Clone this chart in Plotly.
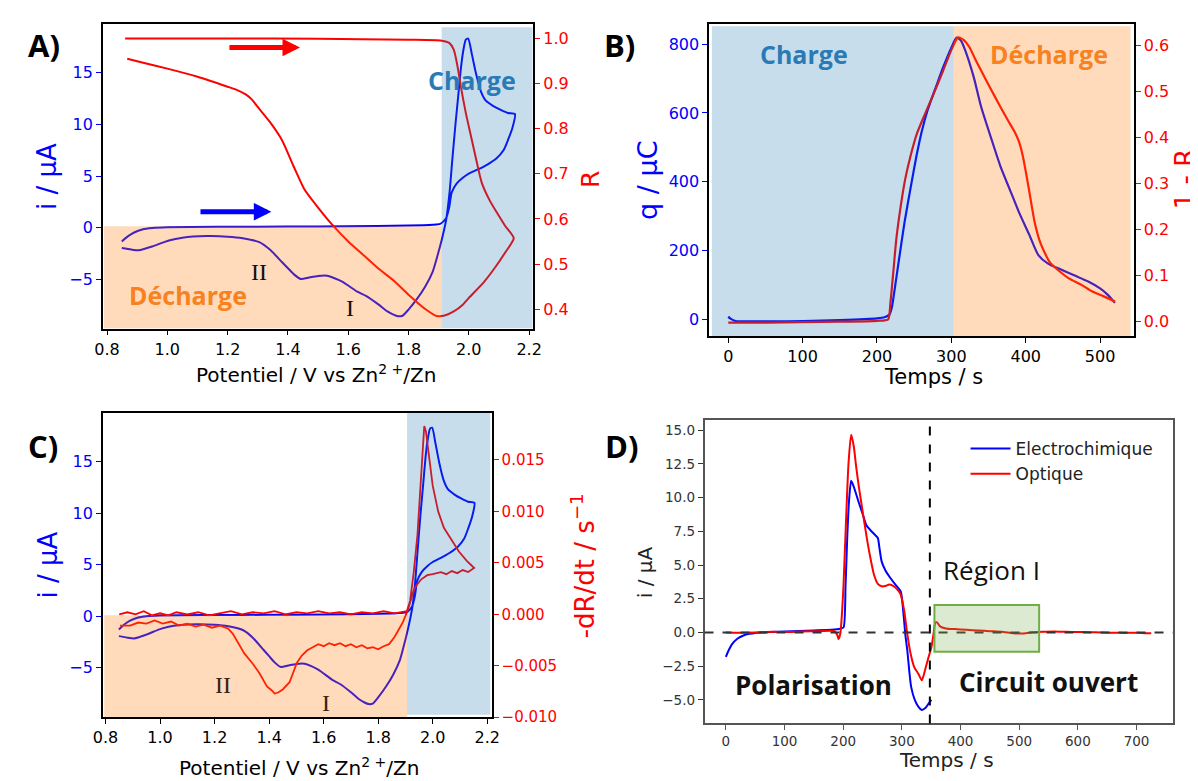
import plotly.graph_objects as go

# ---------------- data ----------------
# Panels A and C: cyclic voltammogram (potential in V vs Zn2+/Zn, current in uA)
cv_potential = [0.849, 0.87, 0.89, 0.917, 0.95, 1.0, 1.2, 1.4, 1.6, 1.8, 1.88, 1.905, 1.915, 1.924, 1.935,
                1.943, 1.96, 1.98, 2.0, 2.03, 2.06, 2.093, 2.115, 2.13, 2.145, 2.153,
                2.13, 2.106, 2.08, 2.055, 2.04, 2.024, 2.01, 1.998, 1.99, 1.982, 1.974, 1.965, 1.955,
                1.945, 1.936, 1.925, 1.911, 1.895, 1.88, 1.855, 1.83, 1.8, 1.78, 1.765, 1.75, 1.73,
                1.7, 1.66, 1.63, 1.58, 1.53, 1.5, 1.47, 1.443, 1.42, 1.4, 1.38, 1.34, 1.305, 1.25,
                1.2, 1.13, 1.05, 1.005, 0.95, 0.905, 0.88, 0.849]
cv_current = [-1.31, -0.8, -0.45, -0.16, -0.02, 0.06, 0.1, 0.12, 0.16, 0.22, 0.3, 0.38, 0.6, 0.9, 2.0,
              3.4, 4.3, 4.85, 5.25, 5.65, 6.1, 6.76, 7.5, 8.5, 9.7, 11.0,
              11.1, 11.4, 11.8, 12.35, 13.2, 14.9, 16.8, 18.3, 18.2, 17.2, 15.5, 12.8, 9.8,
              6.5, 3.4, 0.8, -1.05, -2.8, -4.25, -5.7, -6.8, -7.9, -8.5, -8.55, -8.4, -8.08,
              -7.4, -6.6, -6.17, -5.2, -4.63, -4.65, -4.8, -4.95, -4.5, -3.9, -3.3, -2.1, -1.38, -1.0,
              -0.85, -0.8, -0.95, -1.22, -1.8, -2.17, -2.1, -1.95]

# Panel A: reflectance R
r_potential = [0.86, 1.2, 1.5, 1.8, 1.91, 1.935, 1.95, 1.962, 1.974, 1.99, 2.005, 2.025, 2.043, 2.07,
               2.093, 2.12, 2.149,
               2.12, 2.09, 2.05, 2.0, 1.98, 1.95, 1.92, 1.893, 1.86, 1.8, 1.755, 1.7, 1.65, 1.6,
               1.543, 1.5, 1.455, 1.42, 1.38, 1.34, 1.3, 1.28, 1.26, 1.23, 1.2, 1.1, 1.0, 0.92, 0.867]
r_values = [1.0, 1.0, 0.999, 0.997, 0.995, 0.99, 0.975, 0.94, 0.892, 0.835, 0.79, 0.73, 0.68, 0.64,
            0.614, 0.585, 0.557,
            0.525, 0.495, 0.46, 0.425, 0.41, 0.395, 0.386, 0.385, 0.398, 0.432, 0.461, 0.49, 0.52, 0.55,
            0.59, 0.625, 0.665, 0.715, 0.775, 0.815, 0.848, 0.865, 0.876, 0.886, 0.893, 0.915, 0.933,
            0.946, 0.955]

# Panel C: -dR/dt (s^-1), noisy optical derivative
drdt_potential = [0.85, 0.88, 0.91, 0.94, 0.97, 1.0, 1.03, 1.06, 1.1, 1.14, 1.18, 1.22, 1.26, 1.3, 1.34,
                  1.38, 1.42, 1.46, 1.5, 1.54, 1.58, 1.62, 1.66, 1.7, 1.74, 1.78, 1.82, 1.86, 1.88, 1.905,
                  1.917, 1.93, 1.944, 1.958, 1.965, 1.969, 1.975, 1.985, 2.0, 2.02, 2.041, 2.07, 2.096,
                  2.125, 2.152,
                  2.13, 2.11, 2.09, 2.07, 2.05, 2.03, 2.0, 1.98, 1.958, 1.94, 1.93, 1.92, 1.91, 1.89,
                  1.86, 1.84, 1.82, 1.8, 1.78, 1.76, 1.74, 1.72, 1.7, 1.68, 1.66, 1.64, 1.62, 1.6, 1.58,
                  1.56, 1.54, 1.52, 1.502, 1.475, 1.45, 1.433, 1.42, 1.41, 1.392, 1.364, 1.34, 1.309,
                  1.285, 1.267, 1.25, 1.22, 1.19, 1.16, 1.13, 1.1, 1.07, 1.04, 1.01, 0.98, 0.95, 0.92,
                  0.89, 0.853]
drdt_values = [0.0000, 0.0002, 0.0000, 0.0003, -0.0001, 0.0001, -0.0001, 0.0002, 0.0000, 0.0002, -0.0001,
               0.0001, 0.0003, 0.0000, 0.0002, 0.0001, 0.0003, 0.0000, 0.0002, 0.0001, 0.0003, 0.0001,
               0.0002, 0.0000, 0.0002, 0.0001, 0.0003, 0.0001, 0.0002, 0.0003,
               0.0013, 0.004, 0.0077, 0.0141, 0.0175, 0.0183, 0.0178, 0.0155, 0.0125, 0.0100, 0.0084,
               0.0072, 0.0061, 0.0052, 0.0045,
               0.0041, 0.0043, 0.0040, 0.0042, 0.0039, 0.0041, 0.0039, 0.0038, 0.0034, 0.0028, 0.0023,
               0.0014, 0.0005, -0.0008, -0.0022, -0.0029, -0.0031, -0.0034, -0.0032, -0.0033, -0.0030,
               -0.0032, -0.0029, -0.0031, -0.0028, -0.0030, -0.0028, -0.0031, -0.0029, -0.0032, -0.0035,
               -0.0040, -0.0047, -0.0066, -0.0073, -0.0076, -0.0077, -0.0074, -0.0070, -0.0057, -0.0048,
               -0.0038, -0.0027, -0.0019, -0.0014, -0.0011, -0.0013, -0.0010, -0.0012, -0.0009, -0.0011,
               -0.0007, -0.0009, -0.0006, -0.0009, -0.0008, -0.0011, -0.0011]

# Panel B: charge q (uC) and 1 - R versus time (s)
q_time = [0, 3, 10, 30, 60, 100, 150, 200, 210, 216.7, 220, 224, 230, 237, 245, 253, 260, 268, 280,
          289, 300, 307, 313, 319, 330, 340, 353, 366, 380, 391, 405, 417, 430, 443, 465, 484, 500, 510, 520]
q_values = [8, 2, -5, -6, -6, -5, -2, 3, 6, 14, 35, 91, 180, 282, 380, 474, 545, 608, 680,
            733, 790, 819, 810, 780, 705, 618, 530, 445, 370, 311, 245, 187, 162, 149, 128, 110, 90, 72, 48]
omr_time = [0, 50, 100, 150, 200, 215, 218, 222, 226, 232, 238, 245, 253, 263, 275, 289, 300, 309, 316,
            324.5, 332, 340, 353, 366, 376, 386, 391, 396, 404, 412, 420, 432, 445, 458, 475, 489, 505, 520]
omr_values = [-0.002, -0.002, -0.001, 0.0, 0.002, 0.005, 0.04, 0.109, 0.18, 0.252, 0.31, 0.359, 0.405,
              0.445, 0.49, 0.545, 0.59, 0.617, 0.612, 0.595, 0.57, 0.545, 0.505, 0.466, 0.437, 0.409,
              0.39, 0.36, 0.29, 0.216, 0.17, 0.13, 0.11, 0.094, 0.08, 0.066, 0.055, 0.044]

# Panel D: current (uA) versus time (s)
elec_time = [0, 5, 10, 20, 30, 40, 50, 75, 100, 150, 180, 195, 200.5, 204, 207, 210, 213.5, 218, 226.4,
             233, 239.5, 248, 255, 259, 262, 265.6, 272, 278.6, 288, 298, 302.8, 306, 309.3, 312.5,
             315.8, 322, 328, 334, 340, 345, 350.3]
elec_current = [-1.8, -1.3, -0.9, -0.45, -0.22, -0.1, -0.03, 0.03, 0.08, 0.15, 0.2, 0.28, 0.37, 3.5, 7.2,
                9.8, 11.24, 10.8, 9.65, 8.8, 7.94, 7.5, 7.2, 7.0, 6.2, 5.25, 4.6, 4.15, 3.6, 3.05, 1.35,
                -0.2, -1.34, -2.8, -4.03, -5.0, -5.5, -5.74, -5.6, -5.3, -5.0]
opt_time = [0, 20, 50, 80, 100, 130, 160, 185, 190, 192, 195, 198, 200.5, 205, 209, 213.5, 218, 222,
            226.4, 233, 239.5, 246, 252.5, 259, 265.6, 272, 278.6, 285, 292, 298, 304, 309.3, 315, 321,
            328, 334, 340, 345, 350.3, 354, 357, 360, 365, 375, 390, 410, 430, 450, 470, 490, 505, 520,
            540, 560, 580, 600, 620, 640, 660, 680, 700, 715, 725]
opt_current = [0.0, -0.02, 0.0, 0.05, 0.03, 0.08, 0.1, 0.1, -0.2, -0.48, -0.1, 1.5, 3.5, 8.5, 12.5,
               14.65, 13.8, 12.3, 10.87, 9.0, 7.2, 5.6, 4.28, 3.6, 3.42, 3.45, 3.55, 3.45, 3.2, 2.81,
               1.6, -0.12, -1.6, -2.56, -3.05, -3.54, -2.7, -1.9, -1.1, -0.1, 0.73, 0.75, 0.45, 0.3,
               0.25, 0.2, 0.15, 0.1, 0.05, -0.05, -0.08, 0.0, 0.05, 0.08, 0.05, 0.04, 0.02, 0.0, -0.02,
               -0.03, -0.02, -0.05, -0.05]

# region limits
a_split, c_split, b_split = 1.91, 1.906, 303
d_switch_time = 347.7
d_region1 = (355.5, 534, -1.42, 2.03)

# ---------------- styling ----------------
W, H = 1198, 781
DV = "DejaVu Sans"
BF = "Open Sans"
TAB_BLUE = "#2a7ab5"
TAB_ORANGE = "#f7821f"
ORANGE_FILL = "rgba(255,127,14,0.28)"
BLUE_FILL = "rgba(31,119,180,0.25)"


def dom_x(a, b):
    return [a / W, b / W]


def dom_y(top, bottom):
    return [1 - bottom / H, 1 - top / H]


fig = go.Figure()
line_kw = dict(shape="spline", smoothing=0.6)

# Panel A
fig.add_trace(go.Scatter(x=cv_potential, y=cv_current, mode="lines", xaxis="x", yaxis="y",
                         line=dict(color="blue", width=2, **line_kw), showlegend=False))
fig.add_trace(go.Scatter(x=r_potential, y=r_values, mode="lines", xaxis="x", yaxis="y2",
                         line=dict(color="red", width=2, **line_kw), showlegend=False))
# Panel B
fig.add_trace(go.Scatter(x=q_time, y=q_values, mode="lines", xaxis="x2", yaxis="y3",
                         line=dict(color="blue", width=2.2, **line_kw), showlegend=False))
fig.add_trace(go.Scatter(x=omr_time, y=omr_values, mode="lines", xaxis="x2", yaxis="y4",
                         line=dict(color="red", width=2.2, **line_kw), showlegend=False))
# Panel C
fig.add_trace(go.Scatter(x=cv_potential, y=cv_current, mode="lines", xaxis="x3", yaxis="y5",
                         line=dict(color="blue", width=2, **line_kw), showlegend=False))
fig.add_trace(go.Scatter(x=drdt_potential, y=drdt_values, mode="lines", xaxis="x3", yaxis="y6",
                         line=dict(color="red", width=1.8, shape="linear"), showlegend=False))
# Panel D
fig.add_trace(go.Scatter(x=elec_time, y=elec_current, mode="lines", xaxis="x4", yaxis="y7",
                         name="Electrochimique", line=dict(color="blue", width=2, **line_kw)))
fig.add_trace(go.Scatter(x=opt_time, y=opt_current, mode="lines", xaxis="x4", yaxis="y7",
                         name="Optique", line=dict(color="red", width=2, **line_kw)))


def xaxis(domain, rng, tick0, dtick, fmt, anchor, size=16, color="black", tcolor="black"):
    return dict(domain=domain, range=rng, tick0=tick0, dtick=dtick, tickformat=fmt, anchor=anchor,
                showgrid=False, zeroline=False, showline=True, linecolor=color, linewidth=1.5,
                mirror=True, ticks="outside", ticklen=5, tickwidth=1.3, tickcolor=color,
                tickfont=dict(family=DV, size=size, color=tcolor))


def yaxis(domain, rng, tick0, dtick, fmt, anchor, color, side="left", overlay=None, size=16,
          linecolor="black", mirror=False):
    d = dict(range=rng, tick0=tick0, dtick=dtick, tickformat=fmt, anchor=anchor, side=side,
             showgrid=False, zeroline=False, showline=True, linecolor=linecolor, linewidth=1.5,
             mirror=mirror, ticks="outside", ticklen=5, tickwidth=1.3, tickcolor=color,
             tickfont=dict(family=DV, size=size, color=color))
    if overlay:
        d["overlaying"] = overlay
    else:
        d["domain"] = domain
    return d


A_x, A_y = dom_x(86.1, 523.2), dom_y(15.7, 324.3)
B_x, B_y = dom_x(701.7, 1132.8), dom_y(15.7, 332.3)
C_x, C_y = dom_x(86.1, 481.1), dom_y(409.3, 717.5)
D_x, D_y = dom_x(697.0, 1172.4), dom_y(417.0, 723.8)

A_xr, A_yr, A_y2r = [0.786, 2.214], [-9.74, 19.76], [0.357, 1.033]
B_xr, B_yr, B_y2r = [-25.7, 545.3], [-49.7, 860], [-0.032, 0.647]
C_xr, C_yr, C_y2r = [0.790, 2.217], [-9.83, 19.77], [-0.0100, 0.0196]
D_xr, D_yr = [-36.4, 761.8], [-6.74, 15.73]

fig.update_layout(
    width=W, height=H, margin=dict(l=0, r=0, t=0, b=0),
    paper_bgcolor="white", plot_bgcolor="white",
    xaxis=xaxis(A_x, A_xr, 0.8, 0.2, ".1f", "y", size=16),
    yaxis=yaxis(A_y, A_yr, 0, 5, "d", "x", "blue", size=16),
    yaxis2=yaxis(None, A_y2r, 0.4, 0.1, ".1f", "x", "red", side="right", overlay="y", size=16),
    xaxis2=xaxis(B_x, B_xr, 0, 100, "d", "y3", size=16),
    yaxis3=yaxis(B_y, B_yr, 0, 200, "d", "x2", "blue", size=16),
    yaxis4=yaxis(None, B_y2r, 0, 0.1, ".1f", "x2", "red", side="right", overlay="y3", size=16),
    xaxis3=xaxis(C_x, C_xr, 0.8, 0.2, ".1f", "y5", size=16),
    yaxis5=yaxis(C_y, C_yr, 0, 5, "d", "x3", "blue", size=16),
    yaxis6=yaxis(None, C_y2r, 0, 0.005, ".3f", "x3", "red", side="right", overlay="y5", size=15),
    xaxis4=xaxis(D_x, D_xr, 0, 100, "d", "y7", size=13.5, color="#555555", tcolor="#333333"),
    yaxis7=yaxis(D_y, D_yr, 0, 2.5, ".1f", "x4", "#333333", size=13.5, linecolor="#555555",
                 mirror=True),
    legend=dict(x=0.803, y=1 - 428 / H, xanchor="left", yanchor="top",
                font=dict(family=DV, size=17, color="#222222"), bgcolor="rgba(0,0,0,0)",
                itemwidth=40),
)

shapes = [
    # Panel A regions
    dict(type="rect", xref="x", yref="y", x0=0.79, x1=a_split, y0=A_yr[0], y1=0.15,
         fillcolor=ORANGE_FILL, line=dict(width=0), layer="above"),
    dict(type="rect", xref="x", yref="y", x0=a_split, x1=2.211, y0=A_yr[0], y1=19.4,
         fillcolor=BLUE_FILL, line=dict(width=0), layer="above"),
    # Panel B regions
    dict(type="rect", xref="x2", yref="y3", x0=-22, x1=b_split, y0=-48, y1=852,
         fillcolor=BLUE_FILL, line=dict(width=0), layer="above"),
    dict(type="rect", xref="x2", yref="y3", x0=b_split, x1=541, y0=-48, y1=852,
         fillcolor=ORANGE_FILL, line=dict(width=0), layer="above"),
    # Panel C regions
    dict(type="rect", xref="x3", yref="y5", x0=0.795, x1=c_split, y0=C_yr[0], y1=0.07,
         fillcolor=ORANGE_FILL, line=dict(width=0), layer="above"),
    dict(type="rect", xref="x3", yref="y5", x0=c_split, x1=2.211, y0=-9.6, y1=C_yr[1],
         fillcolor=BLUE_FILL, line=dict(width=0), layer="above"),
    # Panel D
    dict(type="line", xref="x4", yref="y7 domain", x0=d_switch_time, x1=d_switch_time, y0=0, y1=1,
         line=dict(color="black", width=2, dash="dash")),
    dict(type="line", xref="x4 domain", yref="y7", x0=0, x1=1, y0=0, y1=0,
         line=dict(color="#333333", width=1.8, dash="dash")),
    dict(type="rect", xref="x4", yref="y7", x0=d_region1[0], x1=d_region1[1], y0=d_region1[2],
         y1=d_region1[3], fillcolor="rgba(112,173,71,0.25)", line=dict(color="#70ad47", width=2),
         layer="above"),
]
fig.update_layout(shapes=shapes)


def ptext(x, y, text, size, color="black", family=DV, angle=0, weight="normal"):
    return dict(x=x / W, y=1 - y / H, xref="paper", yref="paper", text=text, showarrow=False,
                textangle=angle, xanchor="center", yanchor="middle",
                font=dict(family=family, size=size, color=color, weight=weight))


ann = [
    # panel labels
    ptext(26.8, 37.5, "A)", 31, family=BF, weight="bold"),
    ptext(610.4, 37.5, "B)", 31, family=BF, weight="bold"),
    ptext(25.8, 443.3, "C)", 31, family=BF, weight="bold"),
    ptext(612.3, 443.3, "D)", 31, family=BF, weight="bold"),
    # axis titles
    ptext(29.5, 171, "i / μA", 26, "blue", angle=-90),
    ptext(580.6, 173, "R", 25, "red", angle=-90),
    ptext(303, 370, "Potentiel / V vs Zn<sup>2 +</sup>/Zn", 20),
    ptext(639.5, 174, "q / μC", 27, "blue", angle=-90),
    ptext(1185, 173, "1 - R", 26, "red", angle=-90),
    ptext(929.3, 373, "Temps / s", 21),
    ptext(29.5, 564, "i / μA", 26, "blue", angle=-90),
    ptext(574, 564.5, "-dR/dt / s<sup>−1</sup>", 26, "red", angle=-90),
    ptext(285, 768, "Potentiel / V vs Zn<sup>2 +</sup>/Zn", 20),
    ptext(637.3, 571, "i / μA", 20, "#222222", angle=-90),
    ptext(942.8, 761, "Temps / s", 20, "#222222"),
    # region labels
    ptext(461.4, 73, "Charge", 25, TAB_BLUE, BF, weight="bold"),
    ptext(172.6, 290, "Décharge", 25, TAB_ORANGE, BF, weight="bold"),
    ptext(244.5, 266.7, "II", 24, "#111111", "Liberation Serif"),
    ptext(336.8, 304, "I", 24, "#111111", "Liberation Serif"),
    ptext(798, 47, "Charge", 25, TAB_BLUE, BF, weight="bold"),
    ptext(1047, 47, "Décharge", 25, TAB_ORANGE, BF, weight="bold"),
    ptext(208.6, 685, "II", 24, "#3b2410", "Liberation Serif"),
    ptext(313, 703.3, "I", 24, "#3b2410", "Liberation Serif"),
    ptext(988.6, 568.3, "Région I", 26, "#111111", BF),
    ptext(807.3, 685, "Polarisation", 26, "#111111", BF, weight="bold"),
    ptext(1046.6, 681.7, "Circuit ouvert", 26, "#111111", BF, weight="bold"),
    # scan-direction arrows (panel A)
    dict(x=1.44, y=0.980, ax=1.201, ay=0.980, xref="x", yref="y2", axref="x", ayref="y2",
         showarrow=True, arrowhead=2, arrowsize=0.7, arrowwidth=5, arrowcolor="red", text=""),
    dict(x=1.345, y=1.56, ax=1.105, ay=1.56, xref="x", yref="y", axref="x", ayref="y",
         showarrow=True, arrowhead=2, arrowsize=0.7, arrowwidth=5, arrowcolor="blue", text=""),
]
fig.update_layout(annotations=ann)

fig.write_html("out.html")
